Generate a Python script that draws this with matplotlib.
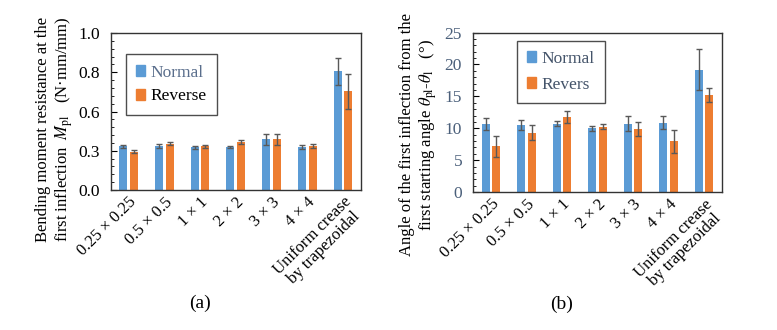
import matplotlib
matplotlib.use("Agg")
import matplotlib.pyplot as plt
import numpy as np
from matplotlib.ticker import MultipleLocator, FixedLocator
from matplotlib.patches import Patch

plt.rcParams['font.family'] = ['Liberation Serif', 'DejaVu Serif']
plt.rcParams['mathtext.fontset'] = 'stix'

categories = ["0.25 × 0.25", "0.5 × 0.5", "1 × 1", "2 × 2", "3 × 3", "4 × 4",
              "Uniform crease\nby trapezoidal"]

# (a) bending moment resistance
m_normal = [0.278, 0.280, 0.272, 0.274, 0.323, 0.274, 0.755]
m_normal_err = [0.008, 0.010, 0.010, 0.005, 0.036, 0.014, 0.083]
m_reverse = [0.245, 0.296, 0.278, 0.306, 0.323, 0.280, 0.628]
m_reverse_err = [0.007, 0.007, 0.010, 0.010, 0.036, 0.014, 0.110]
a_ticks = [0.0, 0.25, 0.5, 0.75, 1.0]
a_ticklabels = ["0.0", "0.3", "0.6", "0.8", "1.0"]

# (b) angle
t_normal = [10.7, 10.5, 10.7, 10.0, 10.7, 10.9, 19.2]
t_normal_err = [0.9, 0.85, 0.37, 0.42, 1.18, 1.05, 3.24]
t_reverse = [7.2, 9.3, 11.75, 10.27, 9.9, 7.96, 15.2]
t_reverse_err = [1.66, 1.18, 0.9, 0.4, 1.13, 1.76, 1.13]

BLUE = "#5B9BD5"
ORANGE = "#ED7D31"
ERR = "#595959"

fig = plt.figure(figsize=(7.77, 3.30), dpi=100)
axA = fig.add_axes([0.1425, 0.4242, 0.322, 0.4758])
axB = fig.add_axes([0.609, 0.418, 0.3197, 0.4833])

x = np.arange(len(categories))
w = 0.225
off = 0.15

def draw(ax, n, ne, r, re, ymax):
    ax.bar(x - off, n, w, color=BLUE, label="Normal", zorder=2)
    ax.bar(x + off, r, w, color=ORANGE, label="Reverse", zorder=2)
    ax.errorbar(x - off, n, yerr=ne, fmt='none', ecolor=ERR, elinewidth=1,
                capsize=2.5, capthick=1, zorder=3)
    ax.errorbar(x + off, r, yerr=re, fmt='none', ecolor=ERR, elinewidth=1,
                capsize=2.5, capthick=1, zorder=3)
    ax.set_xlim(-0.5, len(categories) - 0.5)
    ax.set_ylim(0, ymax)
    ax.set_xticks(x)
    ax.set_xticklabels(categories, rotation=45, ha='right',
                       rotation_mode='anchor', fontsize=12,
                       multialignment='center', linespacing=1.0)
    ax.tick_params(axis='x', length=0, pad=3)
    ax.tick_params(axis='y', which='major', direction='in', length=4,
                   labelsize=12.5, pad=8)
    ax.tick_params(axis='y', which='minor', direction='in', length=2.5)
    for s in ax.spines.values():
        s.set_color('#333333')
        s.set_linewidth(1.0)

draw(axA, m_normal, m_normal_err, m_reverse, m_reverse_err, 1.0)
axA.yaxis.set_major_locator(FixedLocator(a_ticks))
axA.set_yticklabels(a_ticklabels)
axA.yaxis.set_minor_locator(MultipleLocator(0.05))

draw(axB, t_normal, t_normal_err, t_reverse, t_reverse_err, 25)
axB.yaxis.set_major_locator(MultipleLocator(5))
axB.yaxis.set_minor_locator(MultipleLocator(1))
for lab in axB.get_yticklabels():
    lab.set_color('#4a5f7a')

# legends
hA = [Patch(color=BLUE), Patch(color=ORANGE)]
legA = axA.legend(hA, ["Normal", "Reverse"], loc='upper left',
                  bbox_to_anchor=(0.06, 0.865), frameon=True, fancybox=False,
                  edgecolor='#222222', fontsize=12.5, handlelength=0.5,
                  handleheight=0.6, handletextpad=0.3, borderpad=0.6,
                  labelspacing=0.45, borderaxespad=0)
legA.get_frame().set_linewidth(1.0)
legA.get_texts()[0].set_color('#5a6e8c')
legA.get_texts()[1].set_color('black')

legB = axB.legend(hA, ["Normal", "Revers"], loc='upper left',
                  bbox_to_anchor=(0.175, 0.95), frameon=True, fancybox=False,
                  edgecolor='#222222', fontsize=12.5, handlelength=0.5,
                  handleheight=0.6, handletextpad=0.3, borderpad=0.6,
                  labelspacing=0.55, borderaxespad=0)
legB.get_frame().set_linewidth(1.0)
for t in legB.get_texts():
    t.set_color('#44546A')

# y labels
fig.text(55 / 777, 1 - 129 / 330,
         "Bending moment resistance at the\nfirst inflection  $M_{\\mathrm{pl}}$   (N·mm/mm)",
         rotation=90, ha='center', va='center', fontsize=12,
         multialignment='center', linespacing=1.1)
fig.text(419 / 777, 1 - 135 / 330,
         "Angle of the first inflection from the\nfirst starting angle $\\theta_{\\mathrm{pl}}$-$\\theta_{\\mathrm{l}}$   (°)",
         rotation=90, ha='center', va='center', fontsize=12,
         multialignment='center', linespacing=1.1)

fig.text(200 / 777, 1 - 303 / 330, "(a)", ha='center', va='center', fontsize=14)
fig.text(562 / 777, 1 - 304 / 330, "(b)", ha='center', va='center', fontsize=14)

fig.savefig("out.png", dpi=100)
